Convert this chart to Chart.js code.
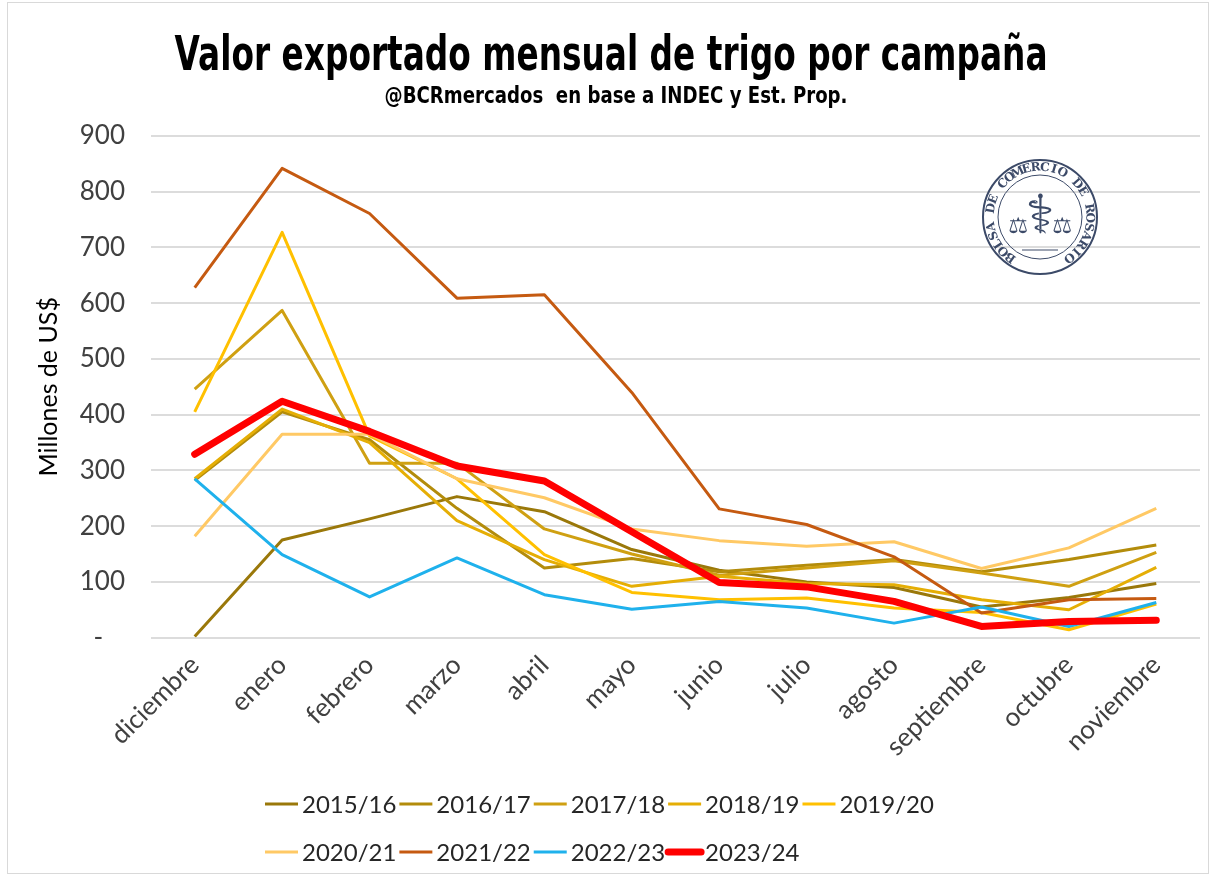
<!DOCTYPE html>
<html>
<head>
<meta charset="utf-8">
<script src="https://cdn.jsdelivr.net/npm/chart.js@4.4.1/dist/chart.umd.min.js"></script>
<style>
  html, body { margin: 0; padding: 0; background: #fff; }
</style>
</head>
<body>
<canvas id="grafico" width="1213" height="877"></canvas>
<script>
// meses de la campaña (dic-nov)
const meses = ["diciembre", "enero", "febrero", "marzo", "abril", "mayo", "junio",
  "julio", "agosto", "septiembre", "octubre", "noviembre"];
const campanias = ["2015/16", "2016/17", "2017/18", "2018/19", "2019/20",
  "2020/21", "2021/22", "2022/23", "2023/24"];

// millones de US$ por mes
const v2015_16 = [2, 175, 213, 253, 226, 158, 121, 100, 90, 55, 72, 97];
const v2016_17 = [282, 405, 355, 232, 125, 142, 118, 130, 140, 118, 140, 166];
const v2017_18 = [446, 587, 313, 313, 195, 150, 112, 125, 138, 116, 92, 153];
const v2018_19 = [285, 410, 350, 210, 140, 92, 110, 97, 95, 68, 50, 126];
const v2019_20 = [405, 727, 362, 285, 149, 81, 68, 71, 53, 45, 14, 60];
const v2020_21 = [182, 365, 365, 285, 251, 195, 174, 164, 172, 124, 161, 232];
const v2021_22 = [628, 842, 761, 609, 615, 440, 231, 203, 145, 44, 68, 70];
const v2022_23 = [285, 149, 73, 143, 77, 51, 65, 53, 26, 55, 20, 63];
const v2023_24 = [329, 424, 370, 308, 281, 190, 99, 91, 65, 20, 29, 31];

const series = [v2015_16, v2016_17, v2017_18, v2018_19, v2019_20,
  v2020_21, v2021_22, v2022_23, v2023_24];
const colores = ["#9A780A", "#B38C0B", "#CFA012", "#E5AE05", "#FFC000",
  "#FFC965", "#C55A11", "#1FB1EC", "#FF0000"];
const grosores = [3, 3, 3, 3, 3, 3, 3, 3, 7];

const ticksY = [0, 100, 200, 300, 400, 500, 600, 700, 800, 900];

const titulo = "Valor exportado mensual de trigo por campaña";
const subtitulo = "@BCRmercados  en base a INDEC y Est. Prop.";

const fuente = "Lato, 'Open Sans', sans-serif";

// texto angosto: se comprime en horizontal hasta el ancho pedido
function textoAngosto(ctx, texto, font, cx, y, ancho) {
  ctx.save();
  ctx.font = font;
  const s = ancho / ctx.measureText(texto).width;
  ctx.translate(cx, y);
  ctx.scale(s, 1);
  ctx.textAlign = "center";
  ctx.textBaseline = "alphabetic";
  ctx.fillStyle = "#000";
  ctx.fillText(texto, 0, 0);
  ctx.restore();
}

const encabezado = {
  id: "encabezado",
  afterDraw(chart) {
    const ctx = chart.ctx;
    textoAngosto(ctx, titulo, "bold 48px 'DejaVu Sans'", 611, 70, 873);
    textoAngosto(ctx, subtitulo, "bold 23px 'DejaVu Sans'", 616, 103, 463);
  }
};

// leyenda en dos filas, alineadas a la izquierda como en Excel
const leyenda = {
  id: "leyenda",
  afterDraw(chart) {
    const ctx = chart.ctx;
    ctx.save();
    ctx.font = "24px " + fuente;
    ctx.textBaseline = "middle";
    ctx.fillStyle = "#262626";
    const filas = [[0, 1, 2, 3, 4], [5, 6, 7, 8]];
    const ys = [804, 852];
    filas.forEach((fila, f) => {
      let x = 265;
      fila.forEach(i => {
        const ds = chart.data.datasets[i];
        ctx.strokeStyle = ds.borderColor;
        ctx.lineWidth = ds.borderWidth;
        ctx.lineCap = i === 8 ? "round" : "butt";
        ctx.beginPath();
        ctx.moveTo(x, ys[f]);
        ctx.lineTo(x + 33, ys[f]);
        ctx.stroke();
        x += 37;
        ctx.fillText(ds.label, x, ys[f] + 1);
        x += ctx.measureText(ds.label).width + 3;
      });
    });
    ctx.restore();
  }
};

// marco y sello
const adornos = {
  id: "adornos",
  beforeDraw(chart) {
    const ctx = chart.ctx;
    ctx.save();
    ctx.strokeStyle = "#d9d9d9";
    ctx.lineWidth = 1;
    ctx.strokeRect(7.5, 2.5, 1201, 871);
    ctx.restore();
  },
  afterDraw(chart) {
    const ctx = chart.ctx;
    const cx = 1040, cy = 217;
    ctx.save();
    ctx.strokeStyle = "#3c4a68";
    ctx.fillStyle = "#3c4a68";
    ctx.lineWidth = 2;
    ctx.beginPath(); ctx.arc(cx, cy, 57, 0, Math.PI * 2); ctx.stroke();
    ctx.lineWidth = 1;
    ctx.beginPath(); ctx.arc(cx, cy, 42, 0, Math.PI * 2); ctx.stroke();
    const texto = "BOLSA DE COMERCIO DE ROSARIO";
    ctx.font = "bold 12px 'DejaVu Serif', serif";
    ctx.textAlign = "center";
    ctx.textBaseline = "middle";
    const a0 = 2.2, a1 = Math.PI * 2 + 0.95;
    for (let i = 0; i < texto.length; i++) {
      const a = a0 + (a1 - a0) * i / (texto.length - 1);
      ctx.save();
      ctx.translate(cx + 49.5 * Math.cos(a), cy + 49.5 * Math.sin(a));
      ctx.rotate(a + Math.PI / 2);
      ctx.fillText(texto[i], 0, 0);
      ctx.restore();
    }
    ctx.font = "54px 'DejaVu Sans'";
    ctx.fillText("\u2695", cx, cy + 2);
    ctx.font = "22px 'DejaVu Sans'";
    ctx.fillText("\u2696", cx - 22, cy + 10);
    ctx.fillText("\u2696", cx + 22, cy + 10);
    ctx.beginPath(); ctx.moveTo(cx - 18, cy + 33); ctx.lineTo(cx + 18, cy + 33); ctx.stroke();
    ctx.restore();
  }
};

new Chart(document.getElementById("grafico"), {
  type: "line",
  data: {
    labels: meses,
    datasets: campanias.map((c, i) => ({
      label: c,
      data: series[i],
      borderColor: colores[i],
      backgroundColor: colores[i],
      borderWidth: grosores[i],
      borderCapStyle: i === 8 ? "round" : "butt",
      borderJoinStyle: "round",
      pointRadius: 0,
      tension: 0,
      order: campanias.length - i,
    })),
  },
  options: {
    responsive: false,
    animation: false,
    devicePixelRatio: 1,
    layout: { autoPadding: false, padding: { left: 10, right: 13, top: 136, bottom: 111 } },
    plugins: {
      legend: { display: false },
      tooltip: { enabled: false },
    },
    scales: {
      x: {
        offset: true,
        grid: { display: false },
        border: { display: false },
        afterFit(scale) { scale.paddingLeft = 0; scale.paddingRight = 0; },
        ticks: {
          color: "#404040",
          font: { family: fuente, size: 26 },
          minRotation: 45,
          maxRotation: 45,
          padding: 4,
        },
      },
      y: {
        min: 0,
        max: 900,
        afterBuildTicks(scale) { scale.ticks = ticksY.map(v => ({ value: v })); },
        afterFit(scale) { scale.width = 141; },
        grid: { color: "#dcdcdc", lineWidth: 2, drawTicks: false },
        border: { display: false },
        ticks: {
          color: "#404040",
          font: { family: fuente, size: 26 },
          padding: 26,
          callback: v => (v === 0 ? "-\u2007\u00a0" : v),
        },
        title: {
          display: true,
          text: "Millones de US$",
          color: "#000",
          font: { family: fuente, size: 25 },
          padding: { top: 24, bottom: 22 },
        },
      },
    },
  },
  plugins: [adornos, encabezado, leyenda],
});
</script>
</body>
</html>
